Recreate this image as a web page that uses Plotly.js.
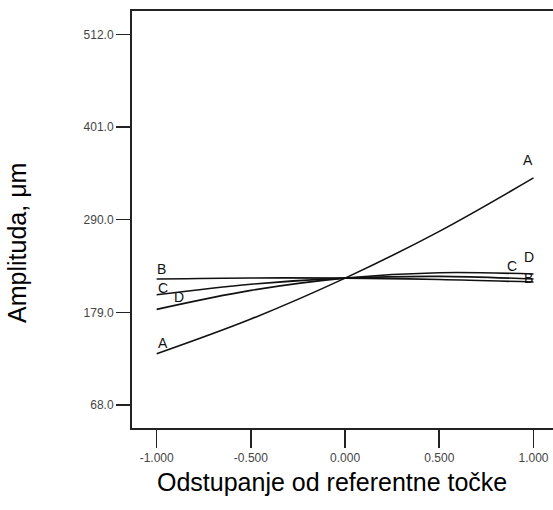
<!DOCTYPE html>
<html>
<head>
<meta charset="utf-8">
<script src="https://cdn.plot.ly/plotly-3.0.1.min.js"></script>
<style>
html,body{margin:0;padding:0;background:#fff;}
#chart{width:553px;height:510px;}
</style>
</head>
<body>
<div id="chart"></div>
<script>
// Data
const xVals = [-1.0, -0.5, 0.0, 0.5, 1.0];
const seriesNames = ['A', 'B', 'C', 'D'];
const seriesA = [129.4, 171.0, 220.0, 276.0, 340.0];
const seriesB = [218.9, 220.2, 220.0, 218.4, 215.3];
const seriesC = [200.0, 212.7, 220.0, 222.1, 218.9];
const seriesD = [182.6, 205.3, 220.0, 226.5, 224.9];
const yTickVals = [68.0, 179.0, 290.0, 401.0, 512.0];
const yTickText = ['68.0', '179.0', '290.0', '401.0', '512.0'];
const xTickVals = [-1.0, -0.5, 0.0, 0.5, 1.0];
const xTickText = ['-1.000', '-0.500', '0.000', '0.500', '1.000'];

const allSeries = [seriesA, seriesB, seriesC, seriesD];

const traces = allSeries.map((s, i) => ({
  x: xVals, y: s, type: 'scatter', mode: 'lines', name: seriesNames[i],
  line: {color: '#111', width: 1.6, shape: 'spline', smoothing: 1},
  hoverinfo: 'skip', showlegend: false
}));

// label offsets (pixels) relative to line ends
const leftShift = {A: [6, 11], B: [5, 10], C: [6, 7], D: [22, 12]};
const rightShift = {A: [-6, 18], B: [-5, 4], C: [-22, 13], D: [-5, 17]};
const labelFont = {family: 'Liberation Sans, Arial, sans-serif', size: 14, color: '#111'};

const annotations = [];
allSeries.forEach((s, i) => {
  const n = seriesNames[i];
  annotations.push({x: xVals[0], y: s[0], xref: 'x', yref: 'y', text: n, showarrow: false,
    xshift: leftShift[n][0], yshift: leftShift[n][1], font: labelFont});
  annotations.push({x: xVals[xVals.length - 1], y: s[s.length - 1], xref: 'x', yref: 'y', text: n, showarrow: false,
    xshift: rightShift[n][0], yshift: rightShift[n][1], font: labelFont});
});

annotations.push({xref: 'paper', yref: 'paper', x: 0.475, y: -0.13, yanchor: 'middle', xanchor: 'center',
  text: 'Odstupanje od referentne točke', showarrow: false,
  font: {family: 'Liberation Sans, Arial, sans-serif', size: 25, color: '#000'}});
annotations.push({xref: 'paper', yref: 'paper', x: -0.272, y: 0.445, xanchor: 'center', yanchor: 'middle',
  text: 'Amplituda, μm', textangle: -90, showarrow: false,
  font: {family: 'Liberation Sans, Arial, sans-serif', size: 25, color: '#000'}});

const layout = {
  width: 553, height: 510,
  margin: {l: 132, r: 0, t: 11, b: 82, pad: 0},
  paper_bgcolor: '#fff', plot_bgcolor: '#fff',
  showlegend: false,
  xaxis: {
    range: [-1.131, 1.1035], tickvals: xTickVals, ticktext: xTickText,
    showgrid: false, zeroline: false, showline: true, mirror: true,
    linecolor: '#222', linewidth: 2, ticks: 'outside', ticklen: 18, tickwidth: 1.6, tickcolor: '#222',
    tickfont: {family: 'Liberation Sans, Arial, sans-serif', size: 12, color: '#444'}
  },
  yaxis: {
    range: [40.5, 539.9], tickvals: yTickVals, ticktext: yTickText,
    showgrid: false, zeroline: false, showline: true,
    linecolor: '#222', linewidth: 2, ticks: 'outside', ticklen: 14, tickwidth: 1.6, tickcolor: '#222',
    tickfont: {family: 'Liberation Sans, Arial, sans-serif', size: 12, color: '#444'}
  },
  annotations: annotations
};

Plotly.newPlot('chart', traces, layout, {staticPlot: true, displayModeBar: false});
</script>
</body>
</html>
